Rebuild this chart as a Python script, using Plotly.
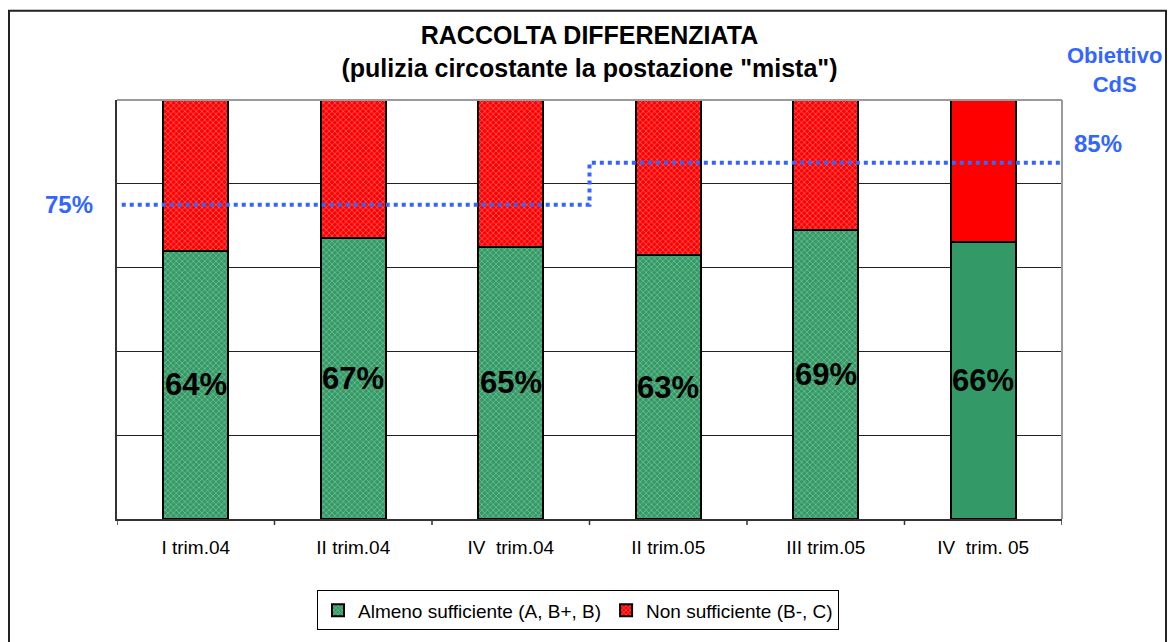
import plotly.graph_objects as go

# Quarterly share of sufficient / insufficient ratings
categories = ["I trim.04", "II trim.04", "IV  trim.04", "II trim.05", "III trim.05", "IV  trim. 05"]
sufficient = [64, 67, 65, 63, 69, 66]
insufficient = [100 - v for v in sufficient]
target = [75, 75, 75, 85, 85, 85]

W, H = 1171, 642
L, R, T, B = 117, 1062, 100, 522
FONT = "Liberation Sans, Arial"

x_idx = list(range(len(categories)))
hatched = ["x"] * (len(categories) - 1) + [""]

fig = go.Figure()

fig.add_trace(go.Bar(
    x=x_idx, y=sufficient, name="Almeno sufficiente (A, B+, B)",
    width=0.41,
    marker=dict(color="#339966", line=dict(color="black", width=2),
                pattern=dict(shape=hatched, fgcolor="#b9e2c8", size=4, solidity=0.35,
                             fillmode="overlay")),
))
fig.add_trace(go.Bar(
    x=x_idx, y=insufficient, name="Non sufficiente (B-, C)",
    width=0.41,
    marker=dict(color="#FF0000", line=dict(color="black", width=2),
                pattern=dict(shape=hatched, fgcolor="#ffc4c4", size=4, solidity=0.35,
                             fillmode="overlay")),
))

# Target step line
step_x = [-0.47] + [i + 0.5 for i in x_idx]
step_y = target + [target[-1]]
fig.add_trace(go.Scatter(
    x=step_x, y=step_y, mode="lines", line=dict(color="#3366FF", width=4, dash="dot", shape="hv"),
    showlegend=False, hoverinfo="skip",
))

# Percent labels in the middle of the green segments
for i, v in zip(x_idx, sufficient):
    fig.add_annotation(x=i, y=v / 2, text=f"<b>{v}%</b>", showarrow=False,
                       font=dict(family=FONT, size=31, color="black"))

blue = "#3366FF"
def px_x(p):
    return (p - L) / (R - L)
def px_y(p):
    return (B - p) / (B - T)

fig.add_annotation(xref="paper", yref="y", x=px_x(69), y=target[0], text="<b>75%</b>",
                   showarrow=False, font=dict(family=FONT, size=24, color=blue),
                   xanchor="center", yanchor="middle")
fig.add_annotation(xref="paper", yref="y", x=px_x(1098), y=target[-1] + 4.7, text="<b>85%</b>",
                   showarrow=False, font=dict(family=FONT, size=24, color=blue),
                   xanchor="center", yanchor="middle")
fig.add_annotation(xref="paper", yref="paper", x=px_x(1114), y=px_y(70), text="<b>Obiettivo<br>CdS</b>",
                   showarrow=False, font=dict(family=FONT, size=22, color=blue),
                   xanchor="center", yanchor="middle")

# Outer frame and plot-area top/right border
fig.add_shape(type="rect", xref="paper", yref="paper", x0=px_x(9), x1=px_x(1166), y0=px_y(650), y1=px_y(10),
              line=dict(color="#222222", width=2), layer="below")
fig.add_shape(type="line", xref="paper", yref="paper", x0=0, x1=1, y0=1, y1=1,
              line=dict(color="#9a9a9a", width=2))
fig.add_shape(type="line", xref="paper", yref="paper", x0=1, x1=1, y0=0, y1=1,
              line=dict(color="#9a9a9a", width=2))

fig.update_layout(
    width=W, height=H,
    margin=dict(l=L, r=W - R, t=T, b=H - B),
    barmode="stack",
    bargap=0.59,
    paper_bgcolor="white", plot_bgcolor="white",
    font=dict(family=FONT, color="black"),
    title=dict(text="<b>RACCOLTA DIFFERENZIATA<br>(pulizia circostante la postazione \"mista\")</b>",
               x=0.5, xref="paper", xanchor="center", y=1 - 44 / H, yanchor="middle",
               font=dict(size=25, color="black")),
    xaxis=dict(range=[-0.5, 5.5], tickmode="array", tickvals=x_idx, ticktext=categories,
               showgrid=False, zeroline=False, showline=True, linecolor="#333333", linewidth=2,
               tickfont=dict(size=19), ticks="", ticklabelstandoff=10, fixedrange=True),
    yaxis=dict(range=[0, 100], dtick=20, showgrid=True, gridcolor="#222222", gridwidth=1,
               showticklabels=False, zeroline=False, showline=True, linecolor="#333333", linewidth=2,
               fixedrange=True),
    legend=dict(orientation="h", x=px_x(578), y=px_y(614), xanchor="center", yanchor="middle",
                bordercolor="black", borderwidth=1, font=dict(size=19),
                itemwidth=30, traceorder="normal"),
    showlegend=True,
)

# Category separator tick marks below the axis
for b in [i - 0.5 for i in x_idx] + [len(categories) - 0.5]:
    fig.add_shape(type="line", xref="x", yref="paper", x0=b, x1=b, y0=0, y1=-6 / (B - T),
                  line=dict(color="#333333", width=1.5))

fig.write_html("out.html")
